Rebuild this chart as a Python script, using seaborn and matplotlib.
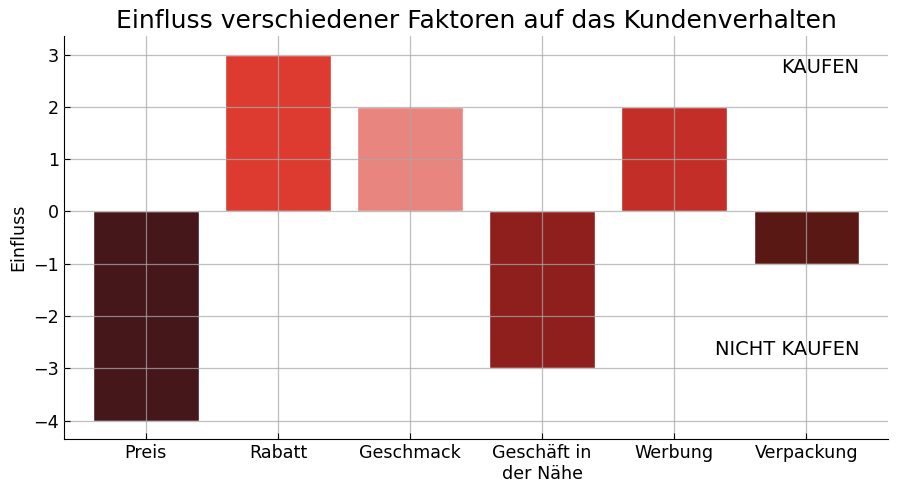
import pandas as pd
import seaborn as sns
import matplotlib.pyplot as plt

# Daten
faktoren = ["Preis", "Rabatt", "Geschmack", "Geschäft in\nder Nähe", "Werbung", "Verpackung"]
einfluss = [-4, 3, 2, -3, 2, -1]
farben = ["#45161a", "#dd3a30", "#e8857f", "#8e1f1c", "#c32e29", "#5a1814"]

df = pd.DataFrame({"Faktor": faktoren, "Einfluss": einfluss})

sns.set_style("white")
plt.rcParams['font.family'] = ['DejaVu Sans']
plt.rcParams['text.color'] = 'black'
plt.rcParams['axes.labelcolor'] = 'black'
plt.rcParams['xtick.color'] = 'black'
plt.rcParams['ytick.color'] = 'black'

fig, ax = plt.subplots(figsize=(9, 4.91), dpi=100)
sns.barplot(data=df, x="Faktor", y="Einfluss", hue="Faktor", palette=farben,
            legend=False, width=0.8, saturation=1, ax=ax)

ax.set_axisbelow(False)
ax.grid(True, color="#a8a8a8", alpha=0.75, linewidth=0.9)
ax.set_xlim(-0.62, 5.62)
ax.set_ylim(-4.35, 3.35)
ax.set_yticks(range(-4, 4))

for s in ["top", "right"]:
    ax.spines[s].set_visible(False)
ax.spines["left"].set_color("black")
ax.spines["bottom"].set_color("black")
ax.tick_params(direction="in", length=4, labelsize=12.6, left=True, bottom=True)

ax.set_title("Einfluss verschiedener Faktoren auf das Kundenverhalten", fontsize=18)
ax.set_xlabel("")
ax.set_ylabel("Einfluss", fontsize=12.6)

ax.text(5.4, 2.75, "KAUFEN", ha="right", va="center", fontsize=14)
ax.text(5.4, -2.64, "NICHT KAUFEN", ha="right", va="center", fontsize=14)

plt.subplots_adjust(left=0.071, right=0.987, top=0.926, bottom=0.106)
plt.savefig("out.png", dpi=100)
